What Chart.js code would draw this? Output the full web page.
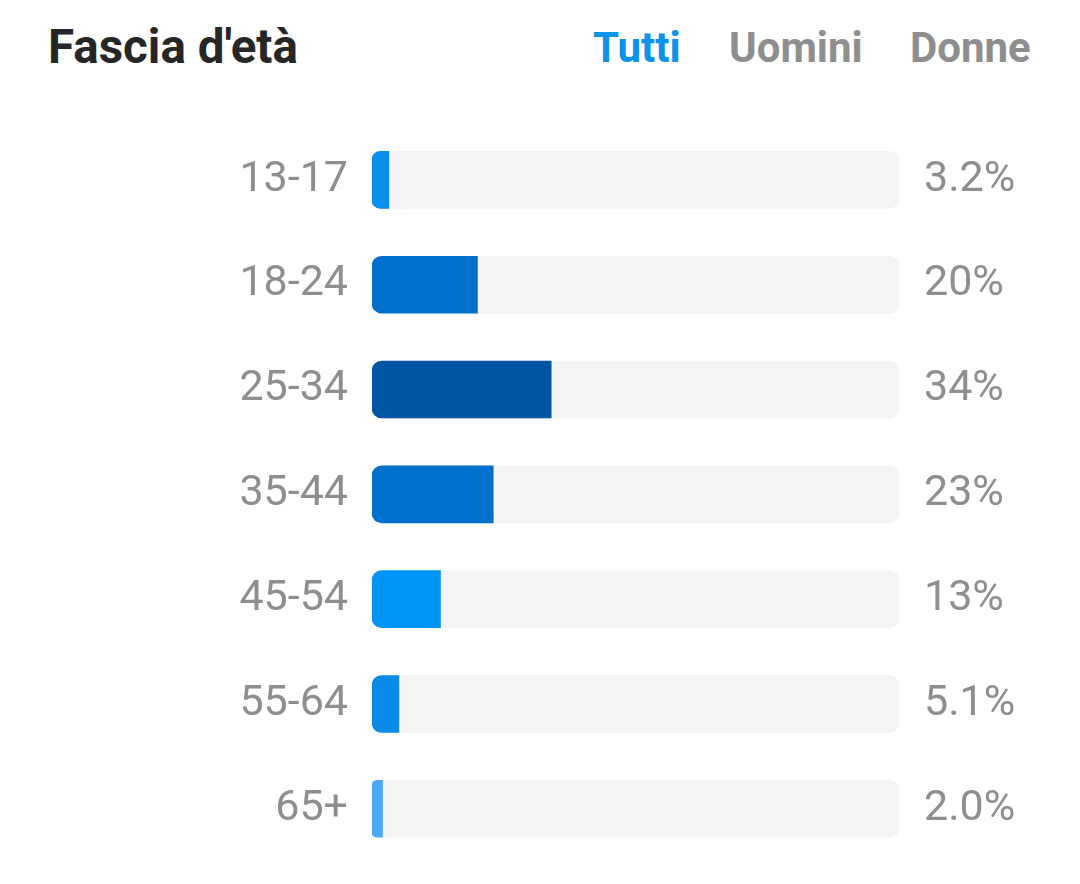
<!DOCTYPE html>
<html><head><meta charset="utf-8">
<script src="https://cdn.jsdelivr.net/npm/chart.js@4/dist/chart.umd.min.js"></script>
<style>
html,body{margin:0;padding:0;background:#fff;width:1080px;height:884px;overflow:hidden;font-family:Roboto,"Noto Sans",sans-serif;}
#wrap{position:absolute;left:0;top:0;width:1080px;height:904px;}
.hd{position:absolute;top:22px;font-weight:700;font-size:42px;line-height:52px;white-space:nowrap;}
#title{left:48px;color:#262626;font-size:47.5px;top:21px;}
#t1{left:593px;color:#0a93e8;}
#t2{left:729px;color:#8e8e8e;}
#t3{left:910px;color:#8e8e8e;}
</style></head>
<body>
<div id="title" class="hd">Fascia d'età</div>
<div id="t1" class="hd">Tutti</div>
<div id="t2" class="hd">Uomini</div>
<div id="t3" class="hd">Donne</div>
<div id="wrap"><canvas id="c" width="1080" height="904"></canvas></div>
<script>
const categories = ["13-17","18-24","25-34","35-44","45-54","55-64","65+"];
const values = [3.2, 20, 34, 23, 13, 5.1, 2.0];
const valueLabels = ["3.2%","20%","34%","23%","13%","5.1%","2.0%"];
const trackValues = [100,100,100,100,100,100,100];
const barColors = ["#0a8fee","#0070cc","#0055a5","#0070cc","#0095f6","#0a8bea","#4ba8f5"];

new Chart(document.getElementById('c'), {
  type: 'bar',
  data: {
    labels: categories,
    datasets: [
      {
        data: values,
        backgroundColor: barColors,
        borderRadius: {topLeft:10, bottomLeft:10, topRight:0, bottomRight:0},
        borderSkipped: false,
        barThickness: 57,
        grouped: false,
        order: 1,
        yAxisID: 'y'
      },
      {
        data: trackValues,
        backgroundColor: "#f4f3f5",
        borderRadius: 10,
        borderSkipped: false,
        barThickness: 57,
        grouped: false,
        order: 2,
        yAxisID: 'y'
      }
    ]
  },
  options: {
    indexAxis: 'y',
    responsive: false,
    animation: false,
    events: [],
    layout: {padding: {top: 127.5, bottom: 0, left: 0, right: 0}},
    plugins: {legend: {display: false}, tooltip: {enabled: false}},
    scales: {
      x: {
        min: 0, max: 100, display: false,
        grid: {display: false}
      },
      y: {
        position: 'left',
        grid: {display: false},
        border: {display: false},
        ticks: {
          color: '#8e8e8e',
          font: {family: 'Roboto', size: 43},
          padding: 16
        },
        afterFit: s => { s.width = 372; }
      },
      y2: {
        axis: 'y',
        type: 'category',
        labels: valueLabels,
        position: 'right',
        offset: true,
        grid: {display: false},
        border: {display: false},
        ticks: {
          color: '#8e8e8e',
          font: {family: 'Roboto', size: 43},
          padding: 17
        },
        afterFit: s => { s.width = 181; }
      }
    }
  }
});
</script>
</body></html>
